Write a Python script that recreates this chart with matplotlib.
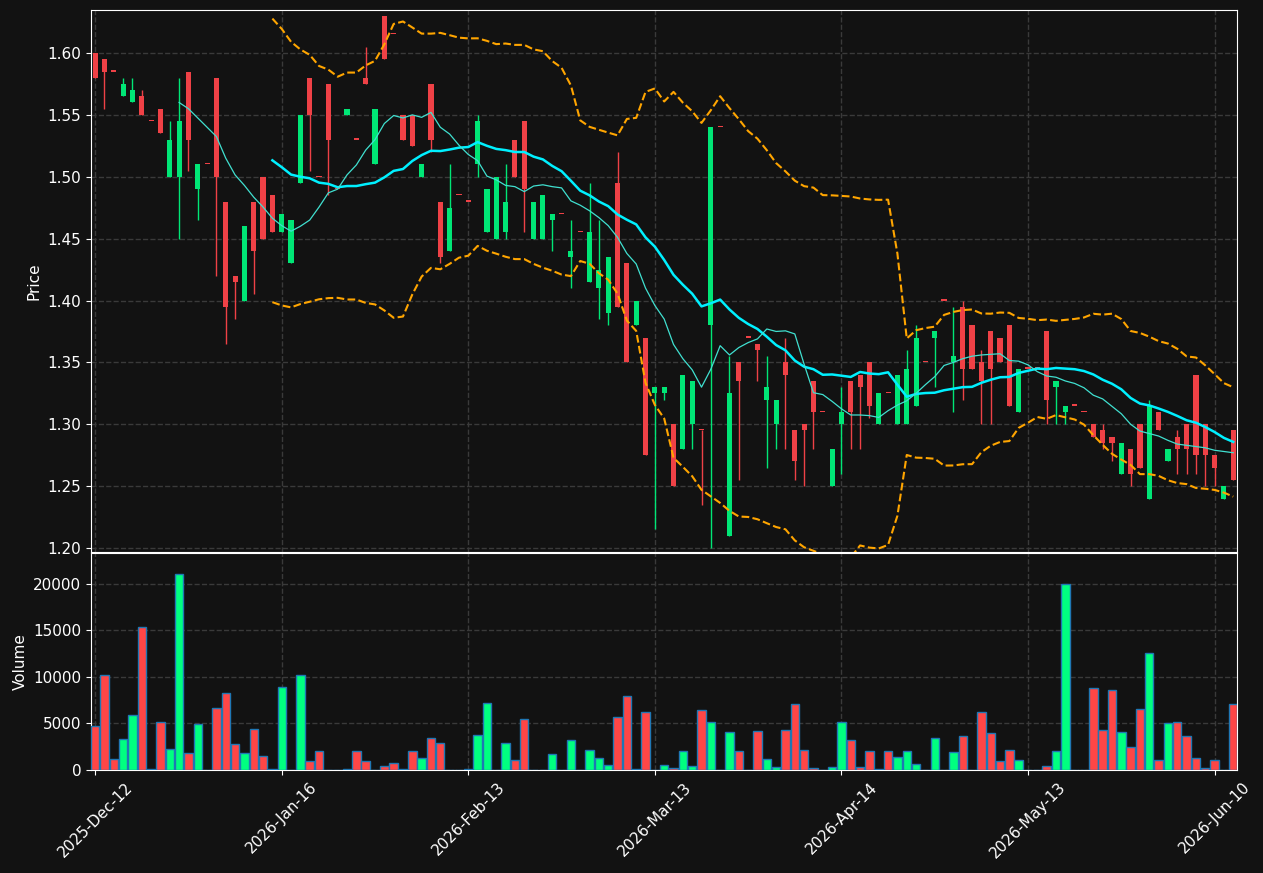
import numpy as np
import pandas as pd
import matplotlib
matplotlib.use('Agg')
import matplotlib.pyplot as plt

# daily OHLC + volume
opens = [1.600, 1.595, 1.585, 1.565, 1.560, 1.565, 1.545, 1.555, 1.500, 1.500,
         1.585, 1.490, 1.510, 1.580, 1.480, 1.420, 1.400, 1.480, 1.500, 1.485,
         1.455, 1.430, 1.495, 1.580, 1.500, 1.575, 1.490, 1.550, 1.530, 1.580,
         1.510, 1.630, 1.615, 1.550, 1.550, 1.500, 1.575, 1.480, 1.440, 1.485,
         1.480, 1.510, 1.455, 1.450, 1.455, 1.530, 1.545, 1.450, 1.450, 1.465,
         1.470, 1.435, 1.455, 1.415, 1.410, 1.390, 1.495, 1.430, 1.380, 1.370,
         1.325, 1.325, 1.300, 1.280, 1.300, 1.295, 1.380, 1.540, 1.210, 1.350,
         1.370, 1.365, 1.320, 1.300, 1.350, 1.295, 1.300, 1.335, 1.310, 1.250,
         1.300, 1.335, 1.340, 1.350, 1.300, 1.325, 1.300, 1.300, 1.315, 1.350,
         1.370, 1.400, 1.350, 1.395, 1.380, 1.350, 1.375, 1.370, 1.380, 1.310,
         1.345, 1.345, 1.375, 1.330, 1.310, 1.315, 1.310, 1.300, 1.295, 1.290,
         1.260, 1.280, 1.300, 1.240, 1.310, 1.270, 1.290, 1.300, 1.340, 1.300,
         1.275, 1.240, 1.295]
highs = [1.600, 1.595, 1.585, 1.580, 1.580, 1.570, 1.545, 1.555, 1.545, 1.580,
         1.585, 1.510, 1.510, 1.580, 1.480, 1.420, 1.460, 1.480, 1.500, 1.485,
         1.470, 1.465, 1.550, 1.580, 1.500, 1.575, 1.490, 1.555, 1.530, 1.605,
         1.555, 1.630, 1.615, 1.550, 1.550, 1.510, 1.575, 1.480, 1.510, 1.485,
         1.480, 1.550, 1.490, 1.500, 1.510, 1.530, 1.545, 1.480, 1.485, 1.470,
         1.470, 1.465, 1.455, 1.495, 1.465, 1.435, 1.520, 1.430, 1.400, 1.370,
         1.330, 1.330, 1.300, 1.340, 1.335, 1.295, 1.540, 1.540, 1.355, 1.350,
         1.370, 1.365, 1.355, 1.320, 1.370, 1.295, 1.300, 1.335, 1.310, 1.280,
         1.330, 1.335, 1.340, 1.350, 1.325, 1.325, 1.340, 1.360, 1.380, 1.350,
         1.375, 1.400, 1.395, 1.400, 1.380, 1.360, 1.375, 1.370, 1.380, 1.345,
         1.345, 1.345, 1.375, 1.335, 1.315, 1.315, 1.310, 1.300, 1.300, 1.290,
         1.285, 1.280, 1.300, 1.320, 1.310, 1.280, 1.295, 1.300, 1.340, 1.300,
         1.275, 1.250, 1.295]
lows = [1.580, 1.555, 1.585, 1.565, 1.560, 1.550, 1.545, 1.535, 1.500, 1.450,
        1.505, 1.465, 1.510, 1.420, 1.365, 1.385, 1.400, 1.405, 1.450, 1.455,
        1.455, 1.430, 1.495, 1.505, 1.500, 1.485, 1.490, 1.550, 1.530, 1.575,
        1.510, 1.595, 1.615, 1.530, 1.525, 1.500, 1.520, 1.430, 1.440, 1.485,
        1.480, 1.500, 1.455, 1.450, 1.450, 1.500, 1.455, 1.450, 1.450, 1.440,
        1.470, 1.410, 1.455, 1.415, 1.385, 1.380, 1.395, 1.350, 1.380, 1.275,
        1.215, 1.320, 1.250, 1.280, 1.280, 1.235, 1.200, 1.540, 1.210, 1.255,
        1.370, 1.335, 1.265, 1.280, 1.280, 1.255, 1.250, 1.280, 1.310, 1.250,
        1.260, 1.280, 1.280, 1.305, 1.300, 1.325, 1.300, 1.300, 1.315, 1.350,
        1.330, 1.400, 1.310, 1.320, 1.345, 1.300, 1.300, 1.350, 1.315, 1.310,
        1.345, 1.345, 1.300, 1.300, 1.300, 1.315, 1.310, 1.290, 1.280, 1.270,
        1.260, 1.250, 1.265, 1.240, 1.295, 1.270, 1.260, 1.260, 1.260, 1.250,
        1.250, 1.240, 1.255]
closes = [1.580, 1.585, 1.585, 1.575, 1.570, 1.550, 1.545, 1.535, 1.530, 1.545,
          1.530, 1.510, 1.510, 1.500, 1.395, 1.415, 1.460, 1.440, 1.450, 1.455,
          1.470, 1.465, 1.550, 1.550, 1.500, 1.530, 1.490, 1.555, 1.530, 1.575,
          1.555, 1.595, 1.615, 1.530, 1.525, 1.510, 1.530, 1.435, 1.475, 1.485,
          1.480, 1.545, 1.490, 1.500, 1.480, 1.500, 1.490, 1.480, 1.485, 1.470,
          1.470, 1.440, 1.455, 1.455, 1.425, 1.435, 1.395, 1.350, 1.400, 1.275,
          1.330, 1.330, 1.250, 1.340, 1.335, 1.295, 1.540, 1.540, 1.325, 1.335,
          1.370, 1.360, 1.330, 1.320, 1.340, 1.270, 1.295, 1.310, 1.310, 1.280,
          1.310, 1.310, 1.330, 1.315, 1.325, 1.325, 1.340, 1.345, 1.370, 1.350,
          1.375, 1.400, 1.355, 1.345, 1.345, 1.335, 1.345, 1.350, 1.315, 1.345,
          1.345, 1.345, 1.320, 1.335, 1.315, 1.315, 1.310, 1.290, 1.285, 1.285,
          1.285, 1.260, 1.265, 1.315, 1.295, 1.280, 1.280, 1.280, 1.275, 1.275,
          1.265, 1.250, 1.255]
volumes = [4700, 10250, 1150, 3300, 5950, 15300, 60, 5100, 2200, 21070,
           1800, 4900, 0, 6700, 8300, 2750, 1800, 4450, 1550, 60,
           8950, 0, 10150, 950, 2000, 0, 0, 60, 2000, 950,
           0, 400, 700, 60, 2000, 1250, 3400, 2950, 0, 0,
           60, 3800, 7150, 0, 2950, 1050, 5450, 0, 0, 1700,
           0, 3200, 0, 2100, 1250, 500, 5650, 7900, 60, 6200,
           0, 500, 180, 2000, 400, 6400, 5100, 0, 4050, 2000,
           0, 4150, 1150, 300, 4250, 7050, 2100, 180, 0, 300,
           5200, 3200, 300, 2000, 60, 2000, 1350, 2000, 600, 0,
           3400, 0, 1900, 3600, 0, 6200, 3950, 950, 2100, 1050,
           0, 0, 400, 2000, 20000, 0, 0, 8750, 4250, 8550,
           4050, 2450, 6500, 12600, 1050, 5000, 5100, 3600, 1250, 180,
           1050, 0, 7050]

tick_pos = [0, 20, 40, 60, 80, 100, 120]
tick_labels = ['2025-Dec-12', '2026-Jan-16', '2026-Feb-13', '2026-Mar-13',
               '2026-Apr-14', '2026-May-13', '2026-Jun-10']

bg = '#121212'
up_c = '#00e676'
dn_c = '#ef4146'
vup_c = '#00ff80'
vdn_c = '#ff4646'

df = pd.DataFrame({'Open': opens, 'High': highs, 'Low': lows,
                   'Close': closes, 'Volume': volumes})
x = np.arange(len(df))
up = df['Close'] > df['Open']

ma20 = df['Close'].rolling(20).mean()
ma10 = df['Close'].rolling(10).mean()
sd20 = df['Close'].rolling(20).std(ddof=0)
bb_hi = ma20 + 2 * sd20
bb_lo = ma20 - 2 * sd20

fig = plt.figure(figsize=(12.63, 8.73), dpi=100, facecolor=bg)
ax1 = fig.add_axes([0.072, 0.3677, 0.9074, 0.6208])
ax2 = fig.add_axes([0.072, 0.118, 0.9074, 0.2486], sharex=ax1)

for ax in (ax1, ax2):
    ax.set_facecolor(bg)
    for s in ax.spines.values():
        s.set_color('white')
    ax.tick_params(colors='white', labelsize=11)
    ax.grid(True, linestyle='--', color='#3a3a3a', linewidth=1)
    ax.set_axisbelow(True)

# candles
body_lo = np.minimum(df['Open'], df['Close'])
body_h = np.maximum(np.abs(df['Close'] - df['Open']), 0.001)
cols = np.where(up, up_c, dn_c)
ax1.vlines(x, df['Low'], df['High'], colors=cols, linewidth=1, zorder=2)
ax1.bar(x, body_h, bottom=body_lo, width=0.55, color=cols, zorder=3)

ax1.plot(x, bb_hi, color='orange', linestyle='--', linewidth=1.5, zorder=4)
ax1.plot(x, bb_lo, color='orange', linestyle='--', linewidth=1.5, zorder=4)
ax1.plot(x, ma20, color='#00f0ff', linewidth=1.8, zorder=5)
ax1.plot(x, ma10, color='#40e0d0', linewidth=0.9, zorder=5)

ax1.set_ylim(1.1968, 1.6347)
ax1.set_ylabel('Price', color='white', fontsize=11)
ax1.tick_params(axis='x', labelbottom=False, length=0)

vcols = np.where(up, vup_c, vdn_c)
ax2.bar(x, df['Volume'], width=0.9, color=vcols, edgecolor='#1f77b4',
        linewidth=1, zorder=3)
ax2.set_ylim(0, 23300)
ax2.set_yticks([0, 5000, 10000, 15000, 20000])
ax2.set_ylabel('Volume', color='white', fontsize=11)

ax2.set_xlim(-0.45, 122.4)
ax2.set_xticks(tick_pos)
ax2.set_xticklabels(tick_labels, rotation=45, ha='center')

fig.savefig('out.png', dpi=100, facecolor=bg)
